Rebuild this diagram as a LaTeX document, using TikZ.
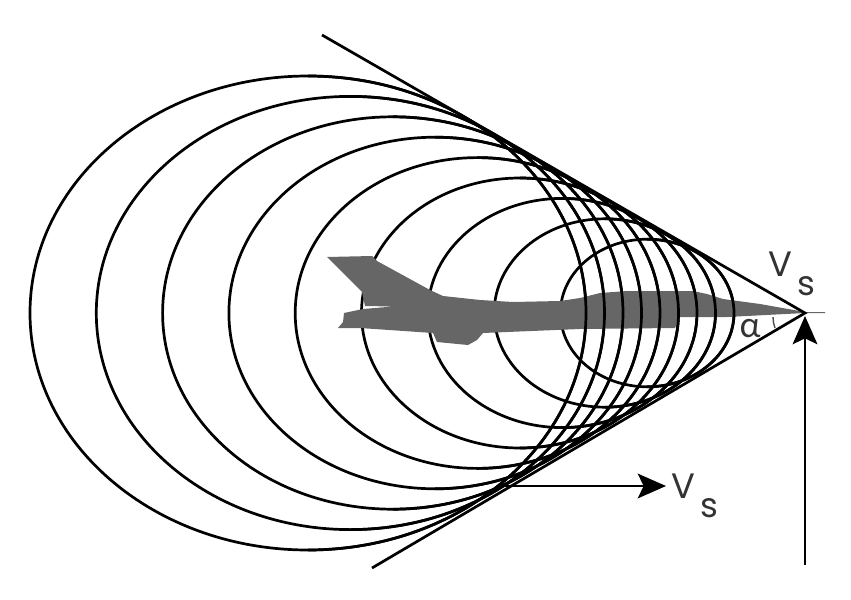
\documentclass[tikz,border=0pt]{standalone}
\usepackage{fontspec}
\setmainfont{Poppins}
\newfontfamily\greekfont{Lato}
\usepackage{tikz}
\usetikzlibrary{arrows.meta}
\tikzset{
    ring/.style={line width=2.3pt},
    tang/.style={line width=2.3pt},
    vec/.style={line width=2.1pt,-{Stealth[length=24pt,width=21pt,inset=5pt]}},
    lbl/.style={inner sep=0pt,text=black!80,font=\fontsize{30}{30}\selectfont}
}
\newcommand{\vsub}{V\hspace{4pt}\raisebox{-16pt}{\fontsize{29}{29}\selectfont s}}
\begin{document}
\begin{tikzpicture}[x=0.85pt,y=-0.85pt]
\useasboundingbox (0,0) rectangle (851,599);
\coordinate (apex) at (805,313);
\coordinate (up) at (322,35);
\coordinate (dn) at (372,568);
\coordinate (foot) at (805,565);
\coordinate (tip) at (805,316);
\coordinate (start) at (505,486);
\coordinate (end) at (666,486);
% rings behind the plane
\foreach \i in {0,...,8}{
    \pgfmathsetmacro{\cx}{308+42.4*\i}
    \pgfmathsetmacro{\rx}{278-23.9*\i}
    \pgfmathsetmacro{\ry}{237-20.4*\i}
    \draw[ring] (\cx,313) ellipse [x radius=\rx,y radius=\ry];
}
\fill[black!60] (327,257) -- (372,256) -- (377,261) -- (430,290) -- (443,296) -- (480,300) -- (513,302) -- (560,301) -- (580,298) -- (600,293) -- (627,291) -- (693,291) -- (707,294) -- (723,299) -- (760,304) -- (805,312) -- (825,312) -- (825,313) -- (805,313) -- (727,317) -- (680,317) -- (675,328) -- (580,329) -- (483,333) -- (477,340) -- (468,345) -- (437,342) -- (433,333) -- (360,328) -- (338,328) -- (343,322) -- (344,313) -- (363,309) -- (393,306.5) -- (365,306) -- (362,292) -- cycle;
% front halves
\foreach \i in {0,...,8}{
    \pgfmathsetmacro{\cx}{308+42.4*\i}
    \pgfmathsetmacro{\rx}{278-23.9*\i}
    \pgfmathsetmacro{\ry}{237-20.4*\i}
    \draw[ring] (\cx,313-\ry) arc [start angle=90,end angle=-90,x radius=\rx,y radius=-\ry];
}
\draw[tang] (up) -- (apex) -- (dn);
\draw[vec] (foot) -- (tip);
\draw[vec] (start) -- (end);
\draw[line width=1.2pt,black!70] (773,317) arc [start angle=180,end angle=160,radius=32];
\node[lbl] (va) at (792,274) {\vsub};
\node[lbl] (vb) at (695,496) {\vsub};
\node[lbl,font=\greekfont\fontsize{30}{30}\selectfont] (ang) at (750,329) {α};
\end{tikzpicture}
\end{document}
